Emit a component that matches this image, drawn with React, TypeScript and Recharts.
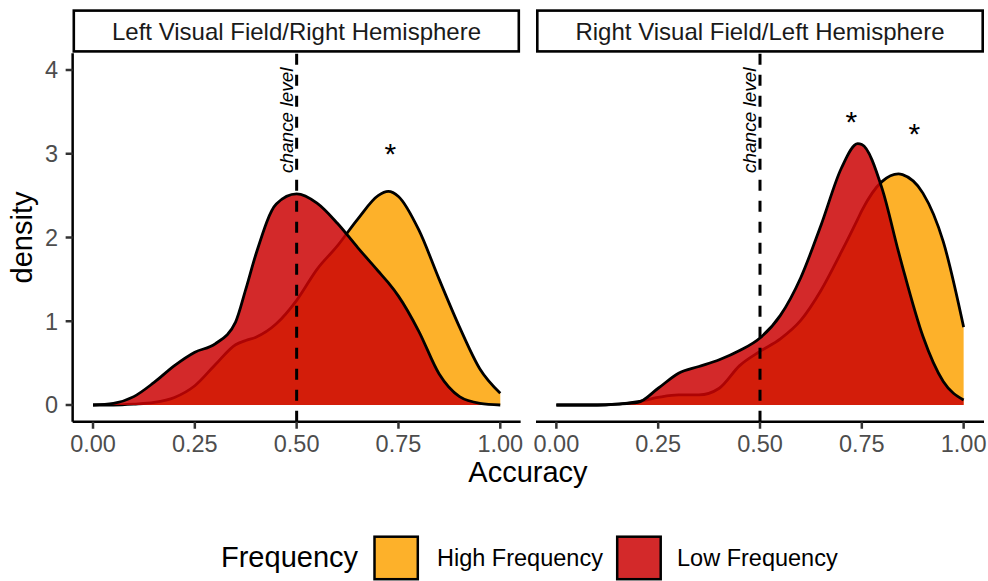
import React from 'react';
import { AreaChart, Area, XAxis, YAxis, ReferenceLine, ReferenceDot } from 'recharts';

// ---- data ----
const panelTitles = ['Left Visual Field/Right Hemisphere', 'Right Visual Field/Left Hemisphere'];
const seriesNames = ['High Frequency', 'Low Frequency'];
const xTicks = [0, 0.25, 0.5, 0.75, 1];
const yTicks = [0, 1, 2, 3, 4];
const chanceLevel = 0.5;

const accuracyLeft = [0, 0.05, 0.1, 0.15, 0.2, 0.25, 0.3, 0.35, 0.375, 0.4, 0.45, 0.5, 0.55, 0.6, 0.65, 0.7, 0.725, 0.75, 0.8, 0.85, 0.9, 0.95, 1.0];
const highLeft = [0, 0, 0.01, 0.03, 0.09, 0.23, 0.48, 0.72, 0.77, 0.81, 0.97, 1.25, 1.62, 1.9, 2.22, 2.5, 2.55, 2.49, 2.09, 1.5, 0.93, 0.43, 0.14];
const lowLeft = [0, 0.02, 0.1, 0.27, 0.47, 0.63, 0.73, 0.99, 1.38, 1.8, 2.4, 2.52, 2.41, 2.17, 1.88, 1.6, 1.46, 1.3, 0.88, 0.37, 0.1, 0.02, 0];

const accuracyRight = [0, 0.05, 0.1, 0.15, 0.2, 0.25, 0.3, 0.35, 0.4, 0.45, 0.5, 0.55, 0.6, 0.65, 0.7, 0.74, 0.75, 0.8, 0.84, 0.85, 0.9, 0.95, 1.0];
const highRight = [0, 0, 0, 0.01, 0.04, 0.09, 0.12, 0.12, 0.2, 0.47, 0.64, 0.79, 1.01, 1.37, 1.83, 2.22, 2.32, 2.67, 2.76, 2.75, 2.53, 1.95, 0.93];
const lowRight = [0, 0, 0, 0.01, 0.03, 0.2, 0.38, 0.46, 0.54, 0.65, 0.8, 1.07, 1.52, 2.15, 2.83, 3.12, 3.11, 2.58, 1.83, 1.65, 0.82, 0.28, 0.06];

// significance stars: [accuracy, density]
const starsLeft = [[0.73, 3.08]];
const starsRight = [[0.724, 3.46], [0.879, 3.32]];
const chanceLabelY = 3.4;

// ---- styling ----
const FONT = "'Liberation Sans', Arial, Helvetica, sans-serif";
const ORANGE = '#FDB12A';
const RED = '#CB0305';
const RED_ALPHA = 0.85;
const PLOT_W = 448;
const PLOT_TOP = 53.25;
const CHART_H = 460;
const XAXIS_H = 38.25;
const SIDE = 24; // spare room so edge tick labels are not clipped

const leftRows = accuracyLeft.map((x, i) => ({ x, high: highLeft[i], low: lowLeft[i] }));
const rightRows = accuracyRight.map((x, i) => ({ x, high: highRight[i], low: lowRight[i] }));

const ChanceLabel = (props: any) => {
  const vb = props.viewBox || {};
  const cx = vb.cx != null ? vb.cx : vb.x + (vb.width || 0) / 2;
  const cy = vb.cy != null ? vb.cy : vb.y + (vb.height || 0) / 2;
  const bx = cx - 4;
  return (
    <text x={bx} y={cy} transform={`rotate(-90 ${bx} ${cy})`} textAnchor="middle" fontStyle="italic" fontSize={19} fill="#000" fontFamily={FONT}>
      chance level
    </text>
  );
};

const StarLabel = (props: any) => {
  const vb = props.viewBox || {};
  const cx = vb.cx != null ? vb.cx : vb.x + (vb.width || 0) / 2;
  const cy = vb.cy != null ? vb.cy : vb.y + (vb.height || 0) / 2;
  const fs = 30;
  return (
    <text x={cx} y={cy + 0.57 * fs} textAnchor="middle" fontSize={fs} fill="#000" fontFamily={FONT}>
      *
    </text>
  );
};

const tickStyle = { fontSize: 23.5, fill: '#4D4D4D', fontFamily: FONT };

function Panel({ rows, showY, stars }: { rows: any[]; showY: boolean; stars: number[][] }) {
  const yW = showY ? 72.65 : 0;
  const leftM = showY ? 0 : SIDE;
  return (
    <AreaChart width={leftM + yW + PLOT_W + SIDE} height={CHART_H} data={rows} margin={{ top: PLOT_TOP, right: SIDE, bottom: 0, left: leftM }}>
      <XAxis
        dataKey="x"
        type="number"
        domain={[-0.05, 1.05]}
        ticks={xTicks}
        tickFormatter={(v: number) => v.toFixed(2)}
        height={XAXIS_H}
        tickSize={7}
        tickMargin={7}
        axisLine={{ stroke: '#000', strokeWidth: 2.5 }}
        tickLine={{ stroke: '#333', strokeWidth: 2.5 }}
        tick={tickStyle}
        allowDataOverflow
        interval={0}
      />
      <YAxis
        type="number"
        domain={[-0.2, 4.2]}
        ticks={yTicks}
        hide={!showY}
        width={yW}
        tickSize={7}
        tickMargin={7.5}
        axisLine={{ stroke: '#000', strokeWidth: 2.5 }}
        tickLine={{ stroke: '#333', strokeWidth: 2.5 }}
        tick={tickStyle}
        allowDataOverflow
        interval={0}
      />
      <Area
        dataKey="high"
        type="monotone"
        baseValue={0}
        fill={ORANGE}
        fillOpacity={1}
        stroke="#000"
        strokeWidth={2.8}
        dot={false}
        activeDot={false}
        isAnimationActive={false}
      />
      <Area
        dataKey="low"
        type="monotone"
        baseValue={0}
        fill={RED}
        fillOpacity={RED_ALPHA}
        stroke="#000"
        strokeWidth={2.8}
        dot={false}
        activeDot={false}
        isAnimationActive={false}
      />
      <ReferenceLine x={chanceLevel} stroke="#000" strokeWidth={3} strokeDasharray="11 10" />
      <ReferenceDot x={chanceLevel} y={chanceLabelY} r={1} fill="none" stroke="none" label={<ChanceLabel />} />
      {stars.map((s, i) => (
        <ReferenceDot key={i} x={s[0]} y={s[1]} r={1} fill="none" stroke="none" label={<StarLabel />} />
      ))}
    </AreaChart>
  );
}

export default function App() {
  return (
    <div style={{ position: 'absolute', left: 0, top: 0, width: 988, height: 581, background: '#fff', overflow: 'hidden' }}>
      <div style={{ position: 'absolute', left: 0, top: 0 }}>
        <Panel rows={leftRows} showY={true} stars={starsLeft} />
      </div>
      <div style={{ position: 'absolute', left: 535.6 - SIDE, top: 0 }}>
        <Panel rows={rightRows} showY={false} stars={starsRight} />
      </div>
      <svg width={988} height={581} style={{ position: 'absolute', left: 0, top: 0, pointerEvents: 'none' }} fontFamily={FONT}>
        {/* facet strips */}
        <rect x={73.8} y={10.6} width={445} height={40.8} fill="#fff" stroke="#000" strokeWidth={2.6} />
        <text x={296.5} y={40} textAnchor="middle" fontSize={24} fill="#1A1A1A">{panelTitles[0]}</text>
        <rect x={537.3} y={10.6} width={445.4} height={40.8} fill="#fff" stroke="#000" strokeWidth={2.6} />
        <text x={760} y={40} textAnchor="middle" fontSize={24} fill="#1A1A1A">{panelTitles[1]}</text>
        {/* axis titles */}
        <text x={32} y={237.5} transform="rotate(-90 32 237.5)" textAnchor="middle" fontSize={29} fill="#000">density</text>
        <text x={528} y={482} textAnchor="middle" fontSize={29} fill="#000">Accuracy</text>
        {/* legend */}
        <text x={221} y={566.5} fontSize={29} fill="#000">Frequency</text>
        <rect x={374.5} y={536.7} width={43.3} height={42.5} fill={ORANGE} stroke="#000" strokeWidth={2.5} />
        <text x={437} y={566} fontSize={23.5} fill="#000">{seriesNames[0]}</text>
        <rect x={617.2} y={536.7} width={43.5} height={42.5} fill={RED} fillOpacity={RED_ALPHA} stroke="#000" strokeWidth={2.5} />
        <text x={677} y={566} fontSize={23.5} fill="#000">{seriesNames[1]}</text>
      </svg>
    </div>
  );
}
